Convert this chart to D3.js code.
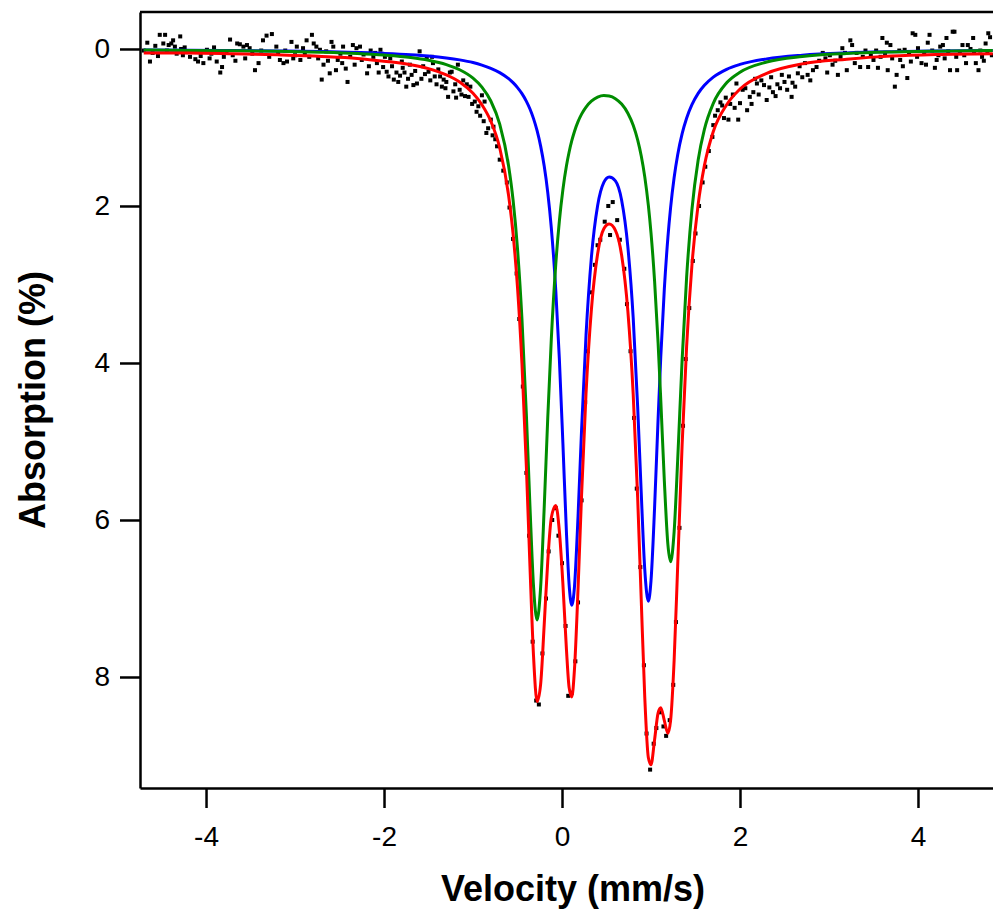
<!DOCTYPE html>
<html lang="en">
<head>
<meta charset="UTF-8">
<title>Absorption spectrum</title>
<script src="https://d3js.org/d3.v7.min.js"></script>
<style>
    body { margin: 0; background: white; }
    svg { display: block; font-family: Arial, "Liberation Sans", sans-serif; }
</style>
</head>
<body>
<svg id="chart" width="993" height="909"></svg>
<script>
// velocity grid of the fitted curves (mm/s)
const velocity = [-4.7, -4.2, -3.7, -3.2, -2.7, -2.3, -2.0, -1.7, -1.5, -1.3,
    -1.15, -1.0, -0.9, -0.8, -0.7, -0.6, -0.55, -0.5, -0.45, -0.4,
    -0.36, -0.32, -0.28, -0.24, -0.2, -0.16, -0.12, -0.07, -0.03, 0.01,
    0.05, 0.08, 0.11, 0.14, 0.18, 0.22, 0.27, 0.33, 0.4, 0.47,
    0.53, 0.6, 0.67, 0.74, 0.8, 0.85, 0.89, 0.93, 0.97, 1.0,
    1.04, 1.08, 1.11, 1.15, 1.19, 1.22, 1.26, 1.3, 1.35, 1.4,
    1.46, 1.53, 1.6, 1.7, 1.85, 2.0, 2.3, 2.7, 3.2, 3.7, 4.2, 4.84];

// blue doublet
const fitBlue = [0.012, 0.015, 0.019, 0.025, 0.033, 0.044, 0.056, 0.073, 0.090, 0.114,
    0.139, 0.173, 0.205, 0.246, 0.301, 0.378, 0.429, 0.492, 0.569, 0.667,
    0.765, 0.887, 1.04, 1.237, 1.492, 1.829, 2.281, 3.073, 3.943, 5.023,
    6.163, 6.823, 7.085, 6.852, 5.959, 4.848, 3.645, 2.657, 1.997, 1.70,
    1.63, 1.68, 1.926, 2.522, 3.426, 4.553, 5.646, 6.631, 7.035, 6.775,
    5.85, 4.706, 3.917, 3.053, 2.401, 2.025, 1.638, 1.347, 1.079, 0.882,
    0.710, 0.566, 0.463, 0.359, 0.259, 0.197, 0.126, 0.079, 0.050, 0.035, 0.026, 0.018];

// green doublet
const fitGreen = [0.014, 0.018, 0.023, 0.030, 0.042, 0.058, 0.078, 0.109, 0.144, 0.199,
    0.265, 0.372, 0.486, 0.663, 0.957, 1.49, 1.923, 2.546, 3.441, 4.67,
    5.826, 6.845, 7.273, 6.853, 5.841, 4.694, 3.691, 2.742, 2.196, 1.791,
    1.488, 1.312, 1.169, 1.051, 0.926, 0.830, 0.740, 0.665, 0.614, 0.594,
    0.600, 0.633, 0.702, 0.818, 0.972, 1.158, 1.36, 1.629, 1.99, 2.342,
    2.951, 3.751, 4.474, 5.503, 6.315, 6.531, 6.148, 5.233, 3.954, 2.912,
    2.045, 1.413, 1.023, 0.692, 0.431, 0.296, 0.166, 0.095, 0.057, 0.038, 0.028, 0.020];

// total fit (red)
const fitTotal = [0.05, 0.05, 0.06, 0.075, 0.095, 0.12, 0.155, 0.20, 0.25, 0.33,
    0.42, 0.565, 0.71, 0.92, 1.258, 1.868, 2.352, 3.038, 4.01, 5.337,
    6.591, 7.732, 8.313, 8.09, 7.333, 6.523, 5.972, 5.815, 6.139, 6.814,
    7.651, 8.135, 8.254, 7.903, 6.885, 5.678, 4.385, 3.322, 2.611, 2.29,
    2.23, 2.31, 2.628, 3.34, 4.398, 5.711, 7.006, 8.26, 9.025, 9.117,
    8.801, 8.457, 8.391, 8.556, 8.716, 8.556, 7.786, 6.58, 5.033, 3.794,
    2.755, 1.979, 1.486, 1.051, 0.71, 0.51, 0.31, 0.19, 0.13, 0.09, 0.07, 0.06];

// measured points [velocity, absorption]
const measured = [
    [-4.70, 0.02], [-4.66, -0.08], [-4.63, 0.16], [-4.60, 0.05], [-4.57, -0.04], [-4.54, 0.09],
    [-4.52, -0.18], [-4.48, -0.07], [-4.46, -0.18], [-4.44, 0.02], [-4.42, -0.05], [-4.39, -0.07],
    [-4.37, -0.11], [-4.35, -0.03], [-4.33, 0.06], [-4.29, -0.16], [-4.28, 0.0], [-4.26, 0.08],
    [-4.24, -0.02], [-4.22, 0.04], [-4.18, 0.10], [-4.15, 0.03], [-4.12, 0.13], [-4.09, 0.16],
    [-4.06, 0.09], [-4.03, 0.18], [-3.99, 0.01], [-3.96, 0.12], [-3.94, 0.06], [-3.91, -0.02],
    [-3.88, 0.16], [-3.84, 0.30], [-3.82, 0.23], [-3.80, 0.10], [-3.77, 0.03], [-3.73, -0.12],
    [-3.70, 0.08], [-3.67, 0.15], [-3.65, -0.07], [-3.62, -0.06], [-3.58, -0.03], [-3.56, 0.12],
    [-3.54, -0.05], [-3.51, -0.01], [-3.48, 0.06], [-3.45, 0.27], [-3.41, 0.18], [-3.38, 0.02],
    [-3.36, -0.11], [-3.32, -0.17], [-3.29, 0.10], [-3.26, -0.19], [-3.21, -0.03], [-3.19, 0.05],
    [-3.17, 0.14], [-3.13, 0.18], [-3.11, 0.02], [-3.09, 0.16], [-3.04, -0.09], [-3.02, 0.12],
    [-3.00, 0.08], [-2.98, -0.03], [-2.94, 0.14], [-2.91, -0.01], [-2.89, 0.05], [-2.87, -0.11],
    [-2.84, 0.10], [-2.81, -0.18], [-2.79, -0.07], [-2.76, -0.03], [-2.74, 0.12], [-2.72, 0.01],
    [-2.70, 0.39], [-2.68, 0.20], [-2.65, 0.03], [-2.63, 0.15], [-2.61, 0.31], [-2.59, -0.09],
    [-2.57, -0.03], [-2.54, 0.27], [-2.52, 0.14], [-2.49, 0.06], [-2.47, 0.18], [-2.46, -0.03],
    [-2.43, 0.25], [-2.41, 0.42], [-2.38, 0.10], [-2.35, -0.05], [-2.33, 0.20], [-2.31, -0.01],
    [-2.27, -0.03], [-2.25, 0.14], [-2.23, 0.07], [-2.19, 0.31], [-2.17, 0.22], [-2.15, 0.02],
    [-2.12, 0.10], [-2.10, 0.05], [-2.08, 0.18], [-2.06, 0.30], [-2.04, 0.01], [-2.01, 0.23],
    [-1.99, 0.10], [-1.97, 0.29], [-1.95, 0.35], [-1.93, 0.12], [-1.91, 0.22], [-1.89, 0.39],
    [-1.86, 0.30], [-1.84, 0.42], [-1.82, 0.34], [-1.80, 0.16], [-1.79, 0.24], [-1.77, 0.30],
    [-1.75, 0.48], [-1.73, 0.38], [-1.71, 0.20], [-1.69, 0.33], [-1.67, 0.46], [-1.65, 0.28],
    [-1.63, 0.44], [-1.60, 0.03], [-1.58, 0.38], [-1.56, 0.22], [-1.54, 0.32], [-1.52, 0.12],
    [-1.50, 0.29], [-1.48, 0.40], [-1.46, 0.10], [-1.45, 0.18], [-1.43, 0.35], [-1.41, 0.45],
    [-1.39, 0.26], [-1.37, 0.35], [-1.35, 0.48], [-1.33, 0.39], [-1.31, 0.50], [-1.30, 0.42],
    [-1.28, 0.61], [-1.26, 0.30], [-1.24, 0.29], [-1.22, 0.54], [-1.20, 0.45], [-1.19, 0.62],
    [-1.17, 0.20], [-1.15, 0.52], [-1.13, 0.58], [-1.11, 0.40], [-1.09, 0.60], [-1.07, 0.45],
    [-1.05, 0.61], [-1.03, 0.48], [-1.01, 0.70], [-0.98, 0.67], [-0.96, 0.80], [-0.94, 0.73],
    [-0.92, 0.85], [-0.90, 0.59], [-0.88, 0.92], [-0.87, 0.67], [-0.85, 1.07], [-0.83, 1.01],
    [-0.80, 0.90], [-0.78, 1.10], [-0.77, 0.99], [-0.75, 1.15], [-0.73, 1.24], [-0.70, 1.41],
    [-0.66, 1.55], [-0.62, 1.70], [-0.59, 2.02], [-0.55, 2.42], [-0.51, 2.86], [-0.48, 3.44],
    [-0.44, 4.30], [-0.40, 5.40], [-0.37, 6.20], [-0.33, 7.55], [-0.29, 8.30], [-0.26, 8.35],
    [-0.22, 7.70], [-0.18, 7.00], [-0.15, 6.40], [-0.11, 6.00], [-0.07, 5.85], [-0.04, 6.20],
    [0.00, 6.55], [0.04, 7.35], [0.07, 8.24], [0.11, 8.20], [0.15, 7.80], [0.18, 7.05],
    [0.22, 5.75], [0.26, 4.50], [0.29, 3.85], [0.33, 3.10], [0.37, 2.75], [0.40, 2.50],
    [0.43, 2.43], [0.48, 2.20], [0.52, 2.00], [0.54, 2.37], [0.57, 1.95], [0.62, 2.18],
    [0.65, 2.43], [0.70, 2.80], [0.73, 3.25], [0.77, 3.85], [0.81, 4.70], [0.84, 5.60],
    [0.88, 6.60], [0.92, 7.85], [0.95, 8.72], [0.99, 9.18], [1.03, 8.85], [1.06, 8.65],
    [1.10, 8.45], [1.14, 8.63], [1.17, 8.75], [1.21, 8.55], [1.25, 8.10], [1.28, 7.30],
    [1.32, 6.10], [1.36, 4.80], [1.39, 3.95], [1.43, 3.30], [1.47, 2.70], [1.50, 2.35],
    [1.54, 2.00], [1.58, 1.70], [1.61, 1.50], [1.65, 1.30], [1.69, 1.12], [1.70, 0.97],
    [1.72, 0.85], [1.75, 0.78], [1.78, 0.68], [1.80, 0.72], [1.82, 0.88], [1.84, 0.62],
    [1.87, 0.90], [1.89, 0.70], [1.92, 0.58], [1.94, 0.75], [1.96, 0.44], [1.98, 0.90],
    [2.00, 0.69], [2.03, 0.52], [2.06, 0.50], [2.08, 0.78], [2.11, 0.61], [2.13, 0.70],
    [2.15, 0.55], [2.17, 0.38], [2.19, 0.44], [2.21, 0.58], [2.24, 0.40], [2.27, 0.46],
    [2.30, 0.65], [2.33, 0.49], [2.35, 0.36], [2.37, 0.55], [2.40, 0.60], [2.42, 0.45],
    [2.45, 0.50], [2.47, 0.33], [2.50, 0.42], [2.53, 0.52], [2.55, 0.35], [2.58, 0.61],
    [2.59, 0.43], [2.62, 0.48], [2.65, 0.31], [2.67, 0.22], [2.70, 0.36], [2.73, 0.18],
    [2.76, 0.33], [2.79, 0.40], [2.82, 0.27], [2.86, 0.23], [2.89, 0.15], [2.93, 0.05],
    [2.96, 0.12], [2.98, 0.30], [3.01, 0.08], [3.04, 0.20], [3.07, 0.15], [3.10, 0.33],
    [3.13, 0.10], [3.15, -0.01], [3.18, 0.05], [3.20, 0.27], [3.24, -0.11], [3.26, -0.05],
    [3.29, 0.18], [3.31, 0.05], [3.35, 0.23], [3.38, 0.10], [3.41, 0.02], [3.44, 0.23],
    [3.47, 0.08], [3.50, 0.14], [3.53, 0.02], [3.55, 0.24], [3.58, 0.10], [3.60, -0.14],
    [3.63, 0.05], [3.65, -0.08], [3.66, 0.27], [3.69, -0.05], [3.71, 0.12], [3.74, 0.48],
    [3.76, 0.33], [3.79, 0.02], [3.80, 0.14], [3.83, 0.22], [3.85, 0.01], [3.88, 0.37],
    [3.90, 0.05], [3.92, 0.16], [3.94, -0.20], [3.97, -0.18], [3.99, 0.10], [4.00, -0.01],
    [4.04, 0.18], [4.07, 0.05], [4.09, 0.20], [4.11, -0.08], [4.13, -0.18], [4.16, 0.02],
    [4.19, 0.24], [4.21, 0.14], [4.23, 0.08], [4.25, -0.03], [4.28, -0.05], [4.30, 0.12],
    [4.32, -0.14], [4.34, 0.03], [4.36, 0.27], [4.39, -0.22], [4.41, -0.22], [4.43, 0.10],
    [4.44, 0.27], [4.47, 0.04], [4.50, -0.05], [4.52, 0.08], [4.54, 0.18], [4.56, -0.05],
    [4.59, 0.00], [4.62, -0.14], [4.63, 0.05], [4.65, 0.18], [4.68, 0.27], [4.70, 0.02],
    [4.72, 0.10], [4.74, 0.15], [4.76, -0.07], [4.78, 0.05], [4.79, -0.20], [4.81, -0.15],
    [4.83, 0.08]
];

const xTicks = [-4, -2, 0, 2, 4];
const yTicks = [0, 2, 4, 6, 8];

const svg = d3.select("#chart");
const plotLeft = 140, plotRight = 993, plotTop = 12, plotBottom = 788;

const x = d3.scaleLinear().domain([-4.742, 4.843]).range([plotLeft, plotRight]);
const y = d3.scaleLinear().domain([-0.471, 9.414]).range([plotTop, plotBottom]);

svg.append("clipPath").attr("id", "plot-clip")
    .append("rect")
    .attr("x", plotLeft).attr("y", plotTop)
    .attr("width", plotRight - plotLeft).attr("height", plotBottom - plotTop);

const plot = svg.append("g").attr("clip-path", "url(#plot-clip)");

// measured points
plot.selectAll("rect.pt")
    .data(measured)
    .enter()
    .append("rect")
    .attr("class", "pt")
    .attr("x", d => x(d[0]) - 2)
    .attr("y", d => y(d[1]) - 2)
    .attr("width", 4)
    .attr("height", 4)
    .attr("fill", "black");

const line = d3.line()
    .x((d, i) => x(velocity[i]))
    .y(d => y(d))
    .curve(d3.curveMonotoneX);

const fits = [
    { values: fitBlue, color: "#0000ff" },
    { values: fitGreen, color: "#008c00" },
    { values: fitTotal, color: "#ff0000" }
];

fits.forEach(f => {
    plot.append("path")
        .datum(f.values)
        .attr("d", line)
        .attr("fill", "none")
        .attr("stroke", f.color)
        .attr("stroke-width", 3)
        .attr("stroke-linejoin", "round");
});

// frame top line
svg.append("line")
    .attr("x1", plotLeft).attr("x2", plotRight + 2)
    .attr("y1", plotTop).attr("y2", plotTop)
    .attr("stroke", "black").attr("stroke-width", 2.5);

// axes (plain hyphen for negatives, as in the original)
const fmt = d => String(d);

const xAxis = svg.append("g")
    .attr("transform", `translate(0,${plotBottom})`)
    .call(d3.axisBottom(x).tickValues(xTicks).tickFormat(fmt)
        .tickSize(20).tickSizeOuter(0).tickPadding(18));

const yAxis = svg.append("g")
    .attr("transform", `translate(${plotLeft},0)`)
    .call(d3.axisLeft(y).tickValues(yTicks).tickFormat(fmt)
        .tickSize(20).tickSizeOuter(0).tickPadding(10));

[xAxis, yAxis].forEach(g => {
    g.select(".domain").attr("stroke-width", 2.5);
    g.selectAll(".tick line").attr("stroke-width", 2.5);
    g.selectAll(".tick text")
        .attr("font-size", 28)
        .attr("font-family", "Arial, 'Liberation Sans', sans-serif")
        .attr("fill", "black");
});

svg.append("text")
    .attr("x", 573)
    .attr("y", 901)
    .attr("text-anchor", "middle")
    .attr("font-size", 36)
    .attr("font-weight", "bold")
    .text("Velocity (mm/s)");

svg.append("text")
    .attr("transform", "translate(45,400) rotate(-90)")
    .attr("text-anchor", "middle")
    .attr("font-size", 36)
    .attr("font-weight", "bold")
    .text("Absorption (%)");
</script>
</body>
</html>
